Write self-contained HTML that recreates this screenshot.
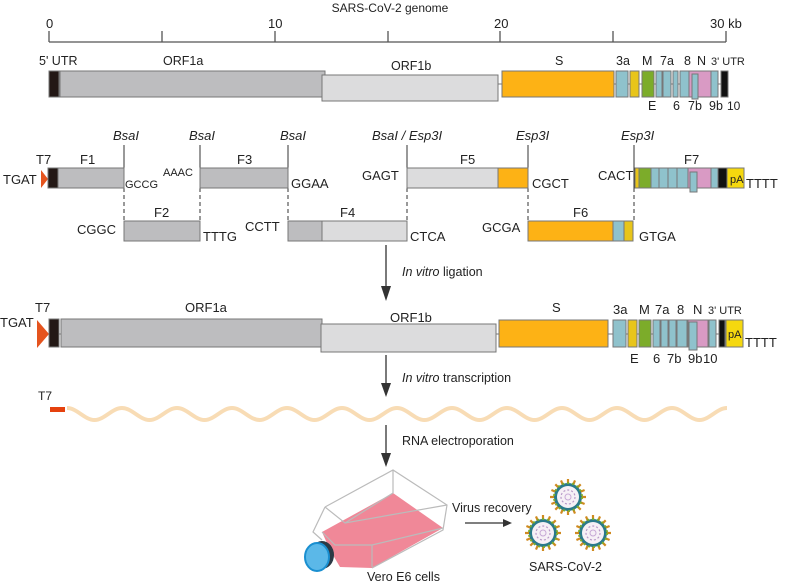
<!DOCTYPE html>
<html><head><meta charset="utf-8"><style>
html,body{margin:0;padding:0;background:#fff;}
svg{display:block;font-family:"Liberation Sans",Arial,sans-serif;}
</style></head><body>
<svg width="787" height="583" viewBox="0 0 787 583" xmlns="http://www.w3.org/2000/svg">
<defs>
<g id="vir">
<g stroke="#d08a20" stroke-width="2.2">
<line x1="0" y1="-18" x2="0" y2="18"/><line x1="-18" y1="0" x2="18" y2="0"/>
<line x1="-12.7" y1="-12.7" x2="12.7" y2="12.7"/><line x1="-12.7" y1="12.7" x2="12.7" y2="-12.7"/>
<line x1="-7" y1="-16.6" x2="7" y2="16.6"/><line x1="-16.6" y1="-7" x2="16.6" y2="7"/>
<line x1="7" y1="-16.6" x2="-7" y2="16.6"/><line x1="16.6" y1="-7" x2="-16.6" y2="7"/>
</g>
<circle r="14" fill="#2a7a8a"/>
<circle r="14" fill="none" stroke="#7cac2a" stroke-width="2" stroke-dasharray="2,3"/>
<circle r="11" fill="#f6f0f6"/>
<circle r="7" fill="none" stroke="#b799c8" stroke-width="1.2" stroke-dasharray="2,2"/>
<circle r="3" fill="none" stroke="#c7a9d6" stroke-width="1"/>
</g>
</defs>
<!-- axis -->
<text x="390" y="12" font-size="12" text-anchor="middle" fill="#222">SARS-CoV-2 genome</text>
<g stroke="#555" stroke-width="1.3" fill="none">
<line x1="49" y1="42" x2="726" y2="42"/>
<line x1="49" y1="31" x2="49" y2="42"/><line x1="162" y1="31" x2="162" y2="42"/>
<line x1="275" y1="31" x2="275" y2="42"/><line x1="388" y1="31" x2="388" y2="42"/>
<line x1="500" y1="31" x2="500" y2="42"/><line x1="613" y1="31" x2="613" y2="42"/>
<line x1="726" y1="31" x2="726" y2="42"/>
</g>
<g font-size="13" fill="#222">
<text x="46" y="28">0</text><text x="268" y="28">10</text><text x="494" y="28">20</text><text x="710" y="28">30 kb</text>
</g>

<!-- row 1 -->
<g stroke="#777" stroke-width="1">
<line x1="49" y1="84" x2="728" y2="84"/>
<rect x="49" y="71" width="10" height="26" fill="#231815"/>
<rect x="60" y="71" width="265" height="26" fill="#bdbdbf"/>
<rect x="322" y="75" width="176" height="26" fill="#dcdcdd"/>
<rect x="502" y="71" width="112" height="26" fill="#fdb215"/>
<rect x="616" y="71" width="12" height="26" fill="#8fc2cc"/>
<rect x="630" y="71" width="9" height="26" fill="#e8c51a"/>
<rect x="642" y="71" width="12" height="26" fill="#7cac2a"/>
<rect x="656" y="71" width="6" height="26" fill="#8fc2cc"/>
<rect x="663" y="71" width="8" height="26" fill="#8fc2cc"/>
<rect x="673" y="71" width="5" height="26" fill="#8fc2cc"/>
<rect x="680" y="71" width="9" height="26" fill="#8fc2cc"/>
<rect x="689" y="71" width="22" height="26" fill="#d99ac4"/>
<rect x="692" y="74" width="6" height="25" fill="#8fc2cc"/>
<rect x="711" y="71" width="7" height="26" fill="#8fc2cc"/>
<rect x="721" y="71" width="7" height="26" fill="#111"/>
</g>
<g font-size="12.5" fill="#222">
<text x="39" y="65">5' UTR</text><text x="163" y="65">ORF1a</text><text x="391" y="70">ORF1b</text>
<text x="555" y="65">S</text><text x="616" y="65">3a</text><text x="642" y="65">M</text><text x="660" y="65">7a</text>
<text x="684" y="65">8</text><text x="697" y="65">N</text><text x="711" y="65" font-size="11">3' UTR</text>
<text x="648" y="110">E</text><text x="673" y="110">6</text><text x="688" y="110">7b</text><text x="709" y="110">9b</text><text x="727" y="110" font-size="12">10</text>
</g>

<!-- row 2 fragments -->
<g stroke="#333" stroke-width="1" fill="none">
<line x1="124" y1="145" x2="124" y2="188"/><line x1="124" y1="188" x2="124" y2="220" stroke-dasharray="4,3"/>
<line x1="200" y1="145" x2="200" y2="188"/><line x1="200" y1="188" x2="200" y2="220" stroke-dasharray="4,3"/>
<line x1="288" y1="145" x2="288" y2="188"/><line x1="288" y1="188" x2="288" y2="220" stroke-dasharray="4,3"/>
<line x1="407" y1="145" x2="407" y2="188"/><line x1="407" y1="188" x2="407" y2="220" stroke-dasharray="4,3"/>
<line x1="528" y1="145" x2="528" y2="188"/><line x1="528" y1="188" x2="528" y2="220" stroke-dasharray="4,3"/>
<line x1="634" y1="145" x2="634" y2="188"/><line x1="634" y1="188" x2="634" y2="220" stroke-dasharray="4,3"/>
</g>
<g font-size="13" font-style="italic" fill="#222">
<text x="113" y="140">BsaI</text><text x="189" y="140">BsaI</text><text x="280" y="140">BsaI</text>
<text x="372" y="140">BsaI / Esp3I</text><text x="516" y="140">Esp3I</text><text x="621" y="140">Esp3I</text>
</g>
<path d="M41,170 L48,179 L41,188 Z" fill="#e5541e"/>
<g stroke="#777" stroke-width="1">
<rect x="48" y="168" width="10" height="20" fill="#231815"/>
<rect x="58" y="168" width="66" height="20" fill="#bdbdbf"/>
<rect x="200" y="168" width="88" height="20" fill="#bdbdbf"/>
<rect x="407" y="168" width="91" height="20" fill="#dcdcdd"/>
<rect x="498" y="168" width="30" height="20" fill="#fdb215"/>
<rect x="124" y="221" width="76" height="20" fill="#bdbdbf"/>
<rect x="288" y="221" width="34" height="20" fill="#bdbdbf"/>
<rect x="322" y="221" width="85" height="20" fill="#dcdcdd"/>
<rect x="528" y="221" width="85" height="20" fill="#fdb215"/>
<rect x="613" y="221" width="11" height="20" fill="#8fc2cc"/>
<rect x="624" y="221" width="9" height="20" fill="#e8c51a"/>
<rect x="635" y="168" width="4" height="20" fill="#e8c51a"/>
<rect x="639" y="168" width="12" height="20" fill="#7cac2a"/>
<rect x="651" y="168" width="8" height="20" fill="#8fc2cc"/>
<rect x="659" y="168" width="9" height="20" fill="#8fc2cc"/>
<rect x="668" y="168" width="9" height="20" fill="#8fc2cc"/>
<rect x="677" y="168" width="11" height="20" fill="#8fc2cc"/>
<rect x="688" y="168" width="23" height="20" fill="#d99ac4"/>
<rect x="690" y="172" width="7" height="20" fill="#8fc2cc"/>
<rect x="711" y="168" width="7" height="20" fill="#8fc2cc"/>
<rect x="718" y="168" width="9" height="20" fill="#111"/>
<rect x="727" y="168" width="17" height="20" fill="#f5d80f"/>
</g>
<g font-size="13" fill="#222">
<text x="3" y="184">TGAT</text><text x="36" y="164">T7</text><text x="80" y="164">F1</text>
<text x="125" y="188" font-size="11">GCCG</text><text x="163" y="176" font-size="11">AAAC</text>
<text x="237" y="164">F3</text><text x="291" y="188">GGAA</text>
<text x="362" y="180">GAGT</text><text x="460" y="164">F5</text><text x="532" y="188">CGCT</text>
<text x="598" y="180">CACT</text><text x="684" y="164">F7</text><text x="730" y="183" font-size="11">pA</text><text x="746" y="188">TTTT</text>
<text x="77" y="234">CGGC</text><text x="154" y="217">F2</text><text x="203" y="241">TTTG</text>
<text x="245" y="231">CCTT</text><text x="340" y="217">F4</text><text x="410" y="241">CTCA</text>
<text x="482" y="232">GCGA</text><text x="573" y="217">F6</text><text x="639" y="241">GTGA</text>
</g>

<!-- arrows -->
<line x1="386" y1="245" x2="386" y2="288" stroke="#333" stroke-width="1.3"/>
<path d="M381,286 L391,286 L386,301 Z" fill="#333"/>
<text x="402" y="276" font-size="12.5" fill="#222"><tspan font-style="italic">In vitro</tspan> ligation</text>
<line x1="386" y1="355" x2="386" y2="385" stroke="#333" stroke-width="1.3"/>
<path d="M381,383 L391,383 L386,397 Z" fill="#333"/>
<text x="402" y="382" font-size="12.5" fill="#222"><tspan font-style="italic">In vitro</tspan> transcription</text>
<line x1="386" y1="425" x2="386" y2="455" stroke="#333" stroke-width="1.3"/>
<path d="M381,453 L391,453 L386,467 Z" fill="#333"/>
<text x="402" y="445" font-size="12.5" fill="#222">RNA electroporation</text>

<!-- row 3 -->
<path d="M37,320 L49,334 L37,348 Z" fill="#e5541e"/>
<g stroke="#777" stroke-width="1">
<line x1="49" y1="334" x2="726" y2="334"/>
<rect x="49" y="319" width="10" height="28" fill="#231815"/>
<rect x="61" y="319" width="261" height="28" fill="#bdbdbf"/>
<rect x="321" y="324" width="175" height="28" fill="#dcdcdd"/>
<rect x="499" y="320" width="109" height="27" fill="#fdb215"/>
<rect x="613" y="320" width="13" height="27" fill="#8fc2cc"/>
<rect x="628" y="320" width="9" height="27" fill="#e8c51a"/>
<rect x="639" y="320" width="12" height="27" fill="#7cac2a"/>
<rect x="653" y="320" width="7" height="27" fill="#8fc2cc"/>
<rect x="661" y="320" width="7" height="27" fill="#8fc2cc"/>
<rect x="669" y="320" width="7" height="27" fill="#8fc2cc"/>
<rect x="677" y="320" width="10" height="27" fill="#8fc2cc"/>
<rect x="688" y="320" width="20" height="27" fill="#d99ac4"/>
<rect x="689" y="322" width="8" height="28" fill="#8fc2cc"/>
<rect x="709" y="320" width="7" height="27" fill="#8fc2cc"/>
<rect x="719" y="320" width="6" height="27" fill="#111"/>
<rect x="726" y="320" width="17" height="27" fill="#f5d80f"/>
</g>
<g font-size="13" fill="#222">
<text x="0" y="327">TGAT</text><text x="35" y="312">T7</text>
<text x="185" y="312">ORF1a</text><text x="390" y="322">ORF1b</text><text x="552" y="312">S</text>
<text x="613" y="314">3a</text><text x="639" y="314">M</text><text x="655" y="314">7a</text><text x="677" y="314">8</text>
<text x="693" y="314">N</text><text x="708" y="314" font-size="11">3' UTR</text>
<text x="728" y="338" font-size="11">pA</text><text x="745" y="347">TTTT</text>
<text x="630" y="363">E</text><text x="653" y="363">6</text><text x="667" y="363">7b</text><text x="688" y="363">9b</text><text x="703" y="363">10</text>
</g>

<!-- RNA -->
<text x="38" y="400" font-size="12" fill="#222">T7</text>
<rect x="50" y="407" width="15" height="5" fill="#e5410e"/>
<path d="M67,408 c10,0 17.5,12 27.5,12 s17.5,-12 27.5,-12 s17.5,12 27.5,12 s17.5,-12 27.5,-12 s17.5,12 27.5,12 s17.5,-12 27.5,-12 s17.5,12 27.5,12 s17.5,-12 27.5,-12 s17.5,12 27.5,12 s17.5,-12 27.5,-12 s17.5,12 27.5,12 s17.5,-12 27.5,-12 s17.5,12 27.5,12 s17.5,-12 27.5,-12 s17.5,12 27.5,12 s17.5,-12 27.5,-12 s17.5,12 27.5,12 s17.5,-12 27.5,-12 s17.5,12 27.5,12 s17.5,-12 27.5,-12 s17.5,12 27.5,12 s17.5,-12 27.5,-12 s17.5,12 27.5,12 s17.5,-12 27.5,-12" fill="none" stroke="#f8dcb5" stroke-width="4"/>

<!-- flask -->
<polygon points="322,532 393,493 443,528 372,568 340,567 330,550" fill="#f08898"/>
<g stroke="#bbb" stroke-width="1.2" fill="none">
<polyline points="325,507 393,470 447,505 443,530 372,568"/>
<polyline points="325,507 313,532 322,540"/>
<line x1="393" y1="470" x2="393" y2="493"/>
<polyline points="325,507 345,523 447,505"/>
<polyline points="322,532 335,545 372,545 443,528"/>
<line x1="372" y1="545" x2="372" y2="567"/>
<line x1="345" y1="523" x2="393" y2="493"/>
</g>
<ellipse cx="322" cy="555" rx="12" ry="14" fill="#2c3a45"/>
<ellipse cx="317" cy="557" rx="12" ry="14" fill="#5bb8e8" stroke="#1a8fd0" stroke-width="2"/>
<text x="367" y="581" font-size="12.5" fill="#222">Vero E6 cells</text>
<text x="452" y="512" font-size="12.5" fill="#222">Virus recovery</text>
<line x1="465" y1="523" x2="503" y2="523" stroke="#333" stroke-width="1.3"/>
<path d="M503,519 L512,523 L503,527 Z" fill="#333"/>

<!-- viruses -->
<use href="#vir" x="568" y="497"/>
<use href="#vir" x="543" y="533"/>
<use href="#vir" x="593" y="533"/>
<text x="529" y="571" font-size="12.5" fill="#222">SARS-CoV-2</text>
</svg>
</body></html>
